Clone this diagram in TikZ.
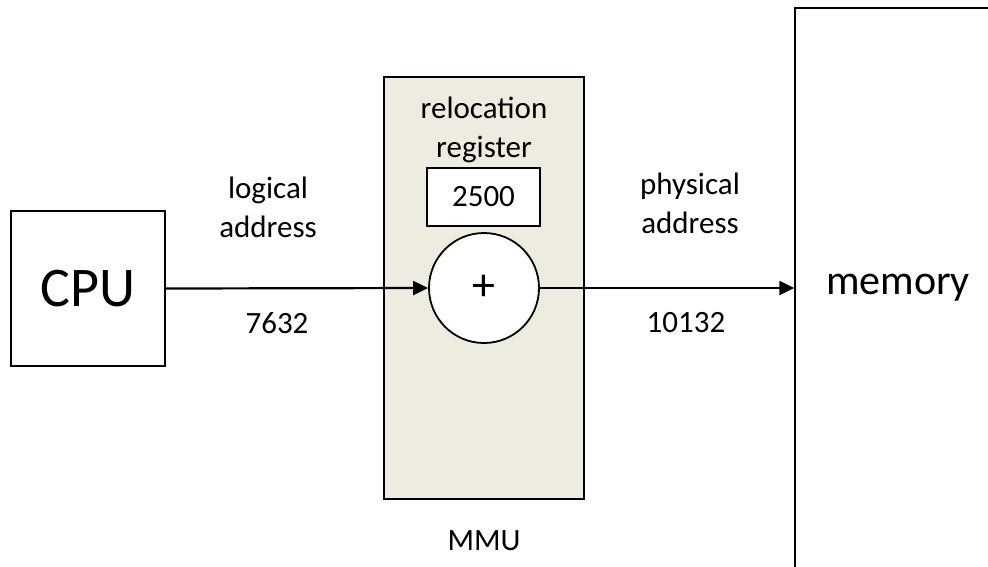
\documentclass[tikz,border=0pt]{standalone}
\usepackage{fontspec}
\setmainfont{Carlito}
\usetikzlibrary{arrows.meta}
\definecolor{mmufill}{HTML}{EEECE1}
\tikzset{
  box/.style={draw=black, line width=1.4pt, rectangle, inner sep=0pt},
  txt/.style={font=\fontsize{31}{39}\selectfont, inner sep=0pt},
  conn/.style={line width=2.2pt, -{Triangle[length=15pt,width=14pt]}},
}
\begin{document}
\begin{tikzpicture}[x=1pt,y=-1pt]
\useasboundingbox (0,0) rectangle (988,566);
\clip (0,0) rectangle (988,566);
% MMU
\node[box, fill=mmufill, minimum width=200pt, minimum height=422pt] (mmu) at (484,288) {};
\node[txt, anchor=base] (mmulabel) at (484,550) {MMU};
\node[txt, align=center] (reloc) at (484,129.5) {relocation\\register};
\node[box, fill=white, minimum width=113pt, minimum height=58pt, font=\fontsize{31}{39}\selectfont] (reg) at (483.5,197) {2500};
\node[draw=black, line width=1.8pt, circle, fill=white, minimum size=110pt, inner sep=0pt, font=\fontsize{46}{50}\selectfont] (plus) at (484,288) {+};
% CPU
\node[box, fill=white, minimum width=154pt, minimum height=155pt, font=\fontsize{56}{60}\selectfont] (cpu) at (88,288.5) {CPU};
% memory
\node[box, fill=white, minimum width=206pt, minimum height=560pt, font=\fontsize{42}{48}\selectfont] (memory) at (898,288) {memory};
% labels
\node[txt, align=center] (logaddr) at (268,207.5) {logical\\address};
\node[txt, anchor=base] (lognum) at (277,333) {7632};
\node[txt, align=center] (physaddr) at (690,203) {physical\\address};
\node[txt, anchor=base] (physnum) at (686,332) {10132};
% connectors
\draw[conn] (cpu.east) -- (plus.west);
\draw[conn] (plus.east) -- (plus.east -| memory.west);
\end{tikzpicture}
\end{document}
